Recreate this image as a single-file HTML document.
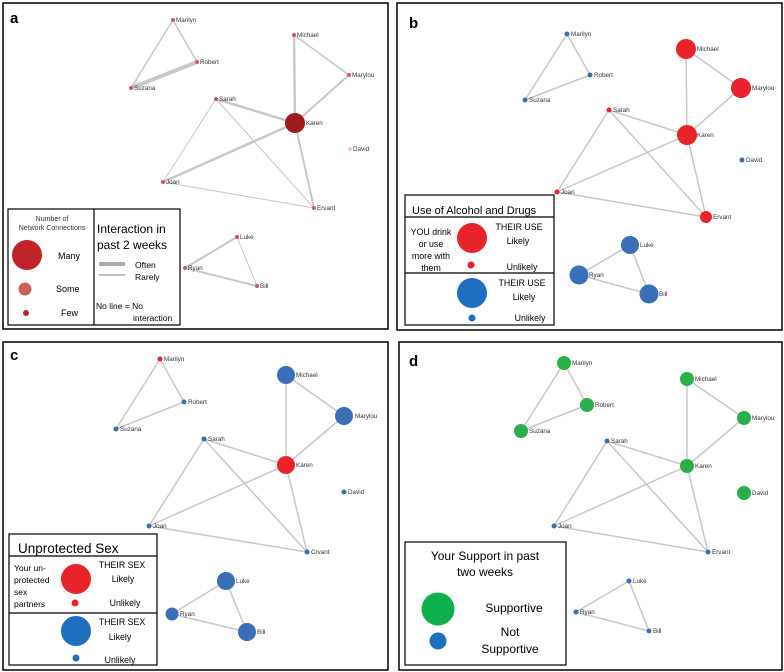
<!DOCTYPE html>
<html><head><meta charset="utf-8"><style>
html,body{margin:0;padding:0;background:#fff}
svg{display:block;font-family:"Liberation Sans",Arial,sans-serif}
.e{stroke:#c8c8c8;stroke-width:1.5;fill:none}
.l{font-size:6.3px;fill:#333}
.L{fill:#000}
</style></head><body>
<svg width="784" height="672" viewBox="0 0 784 672">
<rect x="0" y="0" width="784" height="672" fill="#fff"/>
<rect x="3" y="3" width="385" height="326" fill="none" stroke="#000" stroke-width="1.5"/>
<rect x="397" y="3" width="385" height="327" fill="none" stroke="#000" stroke-width="1.5"/>
<rect x="3" y="342" width="385" height="328" fill="none" stroke="#000" stroke-width="1.5"/>
<rect x="399" y="342" width="383" height="328" fill="none" stroke="#000" stroke-width="1.5"/>
<g font-weight="bold" font-size="15" class="L">
<text x="10" y="23">a</text><text x="409" y="28">b</text><text x="10" y="360">c</text><text x="409" y="366">d</text>
</g>

<!-- PANEL A -->
<g class="e">
<line x1="173" y1="20" x2="197" y2="62"/><line x1="173" y1="20" x2="131" y2="88"/>
<line x1="197" y1="62" x2="131" y2="88" stroke-width="4"/>
<line x1="294" y1="35" x2="349" y2="75"/><line x1="294" y1="35" x2="295" y2="123" stroke-width="2.5"/>
<line x1="349" y1="75" x2="295" y2="123" stroke-width="2"/>
<line x1="216" y1="99" x2="295" y2="123" stroke-width="2.5"/>
<line x1="216" y1="99" x2="163" y2="182" stroke-width="1"/><line x1="216" y1="99" x2="314" y2="208" stroke-width="1"/>
<line x1="295" y1="123" x2="163" y2="182" stroke-width="2.5"/><line x1="295" y1="123" x2="314" y2="208" stroke-width="2"/>
<line x1="163" y1="182" x2="314" y2="208" stroke-width="1"/>
<line x1="237" y1="237" x2="185" y2="268" stroke-width="2"/><line x1="237" y1="237" x2="257" y2="286" stroke-width="1"/>
<line x1="185" y1="268" x2="257" y2="286" stroke-width="2"/>
</g>
<g fill="#d9555c">
<circle cx="173" cy="20" r="2"/><circle cx="197" cy="62" r="2"/><circle cx="131" cy="88" r="2"/>
<circle cx="294" cy="35" r="2"/><circle cx="349" cy="75" r="2"/><circle cx="216" cy="99" r="2"/>
<circle cx="163" cy="182" r="2"/><circle cx="314" cy="208" r="2"/><circle cx="237" cy="237" r="2"/>
<circle cx="185" cy="268" r="2"/><circle cx="257" cy="286" r="2"/>
<circle cx="295" cy="123" r="10" fill="#a01c1c"/><circle cx="350" cy="149" r="2" fill="#f0c8c8"/>
</g>
<g class="l">
<text x="176" y="22">Marilyn</text><text x="200" y="64">Robert</text><text x="134" y="90">Suzana</text>
<text x="297" y="37">Michael</text><text x="352" y="77">Marylou</text><text x="219" y="101">Sarah</text>
<text x="306" y="125">Karen</text><text x="353" y="151">David</text><text x="166" y="184">Joan</text>
<text x="317" y="210">Ervant</text><text x="240" y="239">Luke</text><text x="188" y="270">Ryan</text><text x="260" y="288">Bill</text>
</g>
<rect x="8" y="209" width="172" height="116" fill="#fff" stroke="#000" stroke-width="1.2"/>
<line x1="94" y1="209" x2="94" y2="325" stroke="#000" stroke-width="1.2"/>
<g font-size="7" fill="#333" text-anchor="middle"><text x="52" y="221">Number of</text><text x="52" y="230">Network Connections</text></g>
<circle cx="27" cy="255" r="15" fill="#c0242a"/><circle cx="25" cy="289" r="6.5" fill="#c86060"/><circle cx="26" cy="313" r="3" fill="#c0242a"/>
<g font-size="9" class="L"><text x="58" y="259">Many</text><text x="56" y="292">Some</text><text x="61" y="316">Few</text></g>
<g font-size="12" class="L"><text x="97" y="233">Interaction in</text><text x="97" y="249">past 2 weeks</text></g>
<line x1="99" y1="264" x2="125" y2="264" stroke="#aaa" stroke-width="4"/>
<line x1="99" y1="275" x2="125" y2="275" stroke="#aaa" stroke-width="1.5"/>
<g font-size="8.5" class="L"><text x="135" y="268">Often</text><text x="135" y="280">Rarely</text>
<text x="96" y="309">No line = No</text><text x="133" y="321">interaction</text></g>

<!-- PANEL B -->
<g class="e">
<line x1="567" y1="34" x2="590" y2="75"/><line x1="567" y1="34" x2="525" y2="100"/><line x1="590" y1="75" x2="525" y2="100"/>
<line x1="686" y1="49" x2="741" y2="88"/><line x1="686" y1="49" x2="687" y2="135"/><line x1="741" y1="88" x2="687" y2="135"/>
<line x1="609" y1="110" x2="687" y2="135"/><line x1="609" y1="110" x2="557" y2="192"/><line x1="609" y1="110" x2="706" y2="217"/>
<line x1="687" y1="135" x2="557" y2="192"/><line x1="687" y1="135" x2="706" y2="217"/><line x1="557" y1="192" x2="706" y2="217"/>
<line x1="630" y1="245" x2="579" y2="275"/><line x1="630" y1="245" x2="649" y2="294"/><line x1="579" y1="275" x2="649" y2="294"/>
</g>
<g fill="#3a6fb8">
<circle cx="567" cy="34" r="2.5"/><circle cx="590" cy="75" r="2.5"/><circle cx="525" cy="100" r="2.5"/><circle cx="742" cy="160" r="2.5"/>
<circle cx="630" cy="245" r="9"/><circle cx="579" cy="275" r="9.5"/><circle cx="649" cy="294" r="9.5"/>
</g>
<g fill="#e8242a">
<circle cx="686" cy="49" r="10"/><circle cx="741" cy="88" r="10"/><circle cx="687" cy="135" r="10"/>
<circle cx="609" cy="110" r="2.5"/><circle cx="557" cy="192" r="2.5"/><circle cx="706" cy="217" r="6"/>
</g>
<g class="l">
<text x="571" y="36">Marilyn</text><text x="594" y="77">Robert</text><text x="529" y="102">Suzana</text>
<text x="697" y="51">Michael</text><text x="752" y="90">Marylou</text><text x="613" y="112">Sarah</text>
<text x="697" y="137">Karen</text><text x="746" y="162">David</text><text x="561" y="194">Joan</text>
<text x="713" y="219">Ervant</text><text x="640" y="247">Luke</text><text x="589" y="277">Ryan</text><text x="659" y="296">Bill</text>
</g>
<rect x="405" y="195" width="149" height="130" fill="#fff" stroke="#000" stroke-width="1.2"/>
<line x1="405" y1="217" x2="554" y2="217" stroke="#000" stroke-width="1.2"/>
<line x1="405" y1="273" x2="554" y2="273" stroke="#000" stroke-width="1.2"/>
<text x="412" y="214" font-size="11" class="L">Use of Alcohol and Drugs</text>
<g font-size="8.8" class="L" text-anchor="middle">
<text x="431" y="235">YOU drink</text><text x="431" y="247">or use</text><text x="431" y="259">more with</text><text x="431" y="271">them</text>
<text x="519" y="230">THEIR USE</text><text x="518" y="244">Likely</text><text x="522" y="270">Unlikely</text>
<text x="522" y="286">THEIR USE</text><text x="524" y="300">Likely</text><text x="530" y="321">Unlikely</text>
</g>
<circle cx="472" cy="238" r="15" fill="#e8242a"/><circle cx="471" cy="265" r="3.5" fill="#e8242a"/>
<circle cx="472" cy="293" r="15" fill="#1f6fbf"/><circle cx="472" cy="318" r="3.5" fill="#1f6fbf"/>

<!-- PANEL C -->
<g class="e">
<line x1="160" y1="359" x2="184" y2="402"/><line x1="160" y1="359" x2="116" y2="429"/><line x1="184" y1="402" x2="116" y2="429"/>
<line x1="286" y1="375" x2="344" y2="416"/><line x1="286" y1="375" x2="286" y2="465"/><line x1="344" y1="416" x2="286" y2="465"/>
<line x1="204" y1="439" x2="286" y2="465"/><line x1="204" y1="439" x2="149" y2="526"/><line x1="204" y1="439" x2="307" y2="552"/>
<line x1="286" y1="465" x2="149" y2="526"/><line x1="286" y1="465" x2="307" y2="552"/><line x1="149" y1="526" x2="307" y2="552"/>
<line x1="226" y1="581" x2="172" y2="614"/><line x1="226" y1="581" x2="247" y2="632"/><line x1="172" y1="614" x2="247" y2="632"/>
</g>
<g fill="#3a6fb8">
<circle cx="184" cy="402" r="2.5"/><circle cx="116" cy="429" r="2.5"/><circle cx="204" cy="439" r="2.5"/>
<circle cx="344" cy="492" r="2.5"/><circle cx="149" cy="526" r="2.5"/><circle cx="307" cy="552" r="2.5"/>
<circle cx="286" cy="375" r="9"/><circle cx="344" cy="416" r="9"/><circle cx="226" cy="581" r="9"/>
<circle cx="172" cy="614" r="6.5"/><circle cx="247" cy="632" r="9"/>
</g>
<g fill="#e8242a"><circle cx="160" cy="359" r="2.5"/><circle cx="286" cy="465" r="9"/></g>
<g class="l">
<text x="164" y="361">Marilyn</text><text x="188" y="404">Robert</text><text x="120" y="431">Suzana</text>
<text x="296" y="377">Michael</text><text x="355" y="418">Marylou</text><text x="208" y="441">Sarah</text>
<text x="296" y="467">Karen</text><text x="348" y="494">David</text><text x="153" y="528">Joan</text>
<text x="311" y="554">Crvant</text><text x="236" y="583">Luke</text><text x="180" y="616">Ryan</text><text x="257" y="634">Bill</text>
</g>
<rect x="9" y="534" width="148" height="131" fill="#fff" stroke="#000" stroke-width="1.2"/>
<line x1="9" y1="556" x2="157" y2="556" stroke="#000" stroke-width="1.2"/>
<line x1="9" y1="613" x2="157" y2="613" stroke="#000" stroke-width="1.2"/>
<text x="18" y="553" font-size="13.5" class="L">Unprotected Sex</text>
<g font-size="8.5" class="L">
<text x="14" y="571">Your un-</text><text x="14" y="583">protected</text><text x="14" y="595">sex</text><text x="14" y="607">partners</text>
</g>
<g font-size="8.8" class="L" text-anchor="middle">
<text x="122" y="568">THEIR SEX</text><text x="123" y="582">Likely</text><text x="125" y="606">Unlikely</text>
<text x="122" y="625">THEIR SEX</text><text x="120" y="640">Likely</text><text x="120" y="663">Unlikely</text>
</g>
<circle cx="76" cy="579" r="15" fill="#e8242a"/><circle cx="75" cy="603" r="3.5" fill="#e8242a"/>
<circle cx="76" cy="631" r="15" fill="#1f6fbf"/><circle cx="76" cy="658" r="3.5" fill="#1f6fbf"/>

<!-- PANEL D -->
<g class="e">
<line x1="564" y1="363" x2="587" y2="405"/><line x1="564" y1="363" x2="521" y2="431"/><line x1="587" y1="405" x2="521" y2="431"/>
<line x1="687" y1="379" x2="744" y2="418"/><line x1="687" y1="379" x2="687" y2="466"/><line x1="744" y1="418" x2="687" y2="466"/>
<line x1="607" y1="441" x2="687" y2="466"/><line x1="607" y1="441" x2="554" y2="526"/><line x1="607" y1="441" x2="708" y2="552"/>
<line x1="687" y1="466" x2="554" y2="526"/><line x1="687" y1="466" x2="708" y2="552"/><line x1="554" y1="526" x2="708" y2="552"/>
<line x1="629" y1="581" x2="576" y2="612"/><line x1="629" y1="581" x2="649" y2="631"/><line x1="576" y1="612" x2="649" y2="631"/>
</g>
<g fill="#2ab04a">
<circle cx="564" cy="363" r="7"/><circle cx="587" cy="405" r="7"/><circle cx="521" cy="431" r="7"/>
<circle cx="687" cy="379" r="7"/><circle cx="744" cy="418" r="7"/><circle cx="687" cy="466" r="7"/><circle cx="744" cy="493" r="7"/>
</g>
<g fill="#3a6fb8">
<circle cx="607" cy="441" r="2.5"/><circle cx="554" cy="526" r="2.5"/><circle cx="708" cy="552" r="2.5"/>
<circle cx="629" cy="581" r="2.5"/><circle cx="576" cy="612" r="2.5"/><circle cx="649" cy="631" r="2.5"/>
</g>
<g class="l">
<text x="572" y="365">Marilyn</text><text x="595" y="407">Robert</text><text x="529" y="433">Suzana</text>
<text x="695" y="381">Michael</text><text x="752" y="420">Marylou</text><text x="611" y="443">Sarah</text>
<text x="695" y="468">Karen</text><text x="752" y="495">David</text><text x="558" y="528">Joan</text>
<text x="712" y="554">Ervant</text><text x="633" y="583">Luke</text><text x="580" y="614">Ryan</text><text x="653" y="633">Bill</text>
</g>
<rect x="405" y="542" width="161" height="123" fill="#fff" stroke="#000" stroke-width="1.2"/>
<g font-size="12" class="L" text-anchor="middle">
<text x="485" y="560">Your Support in past</text><text x="485" y="576">two weeks</text>
<text x="514" y="612">Supportive</text><text x="510" y="636">Not</text><text x="510" y="653">Supportive</text>
</g>
<circle cx="438" cy="609" r="16.5" fill="#0db04b"/><circle cx="438" cy="641" r="8.5" fill="#1f6fbf"/>
</svg>
</body></html>
